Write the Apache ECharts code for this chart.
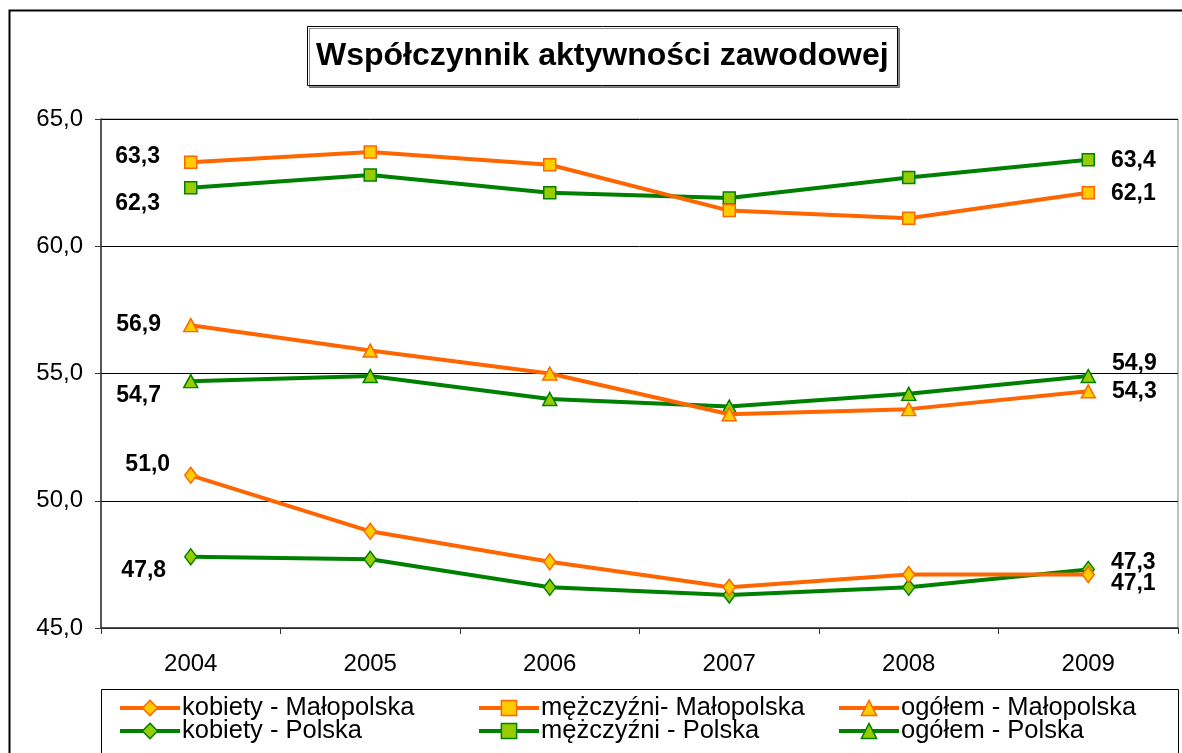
<!DOCTYPE html>
<html>
<head>
<meta charset="utf-8">
<script src="https://cdn.jsdelivr.net/npm/echarts@6/dist/echarts.min.js"></script>
<style>
html,body{margin:0;padding:0;background:#fff;}
#c{width:1182px;height:753px;}
</style>
</head>
<body>
<div id="c"></div>
<script>
const years = ['2004','2005','2006','2007','2008','2009'];
const yTicks = [45, 50, 55, 60, 65];
const seriesNames = ['kobiety - Małopolska','mężczyźni- Małopolska','ogółem - Małopolska','kobiety - Polska','mężczyźni - Polska','ogółem - Polska'];
const kobietyMalopolska = [51.0, 48.8, 47.6, 46.6, 47.1, 47.1];
const mezczyzniMalopolska = [63.3, 63.7, 63.2, 61.4, 61.1, 62.1];
const ogolemMalopolska = [56.9, 55.9, 55.0, 53.4, 53.6, 54.3];
const kobietyPolska = [47.8, 47.7, 46.6, 46.3, 46.6, 47.3];
const mezczyzniPolska = [62.3, 62.8, 62.1, 61.9, 62.7, 63.4];
const ogolemPolska = [54.7, 54.9, 54.0, 53.7, 54.2, 54.9];

const FONT = 'Liberation Sans, Arial, sans-serif';
const ORANGE = '#FF6600', ORANGE_FILL = '#FFCC00';
const GREEN = '#008000', GREEN_FILL = '#99CC00';

// style per series: colours, symbol, label offsets for first/last points
const styles = [
  {line: ORANGE, fill: ORANGE_FILL, symbol: 'diamond', size: [12,16], first: [-14,-11], last: [16, 9]},
  {line: ORANGE, fill: ORANGE_FILL, symbol: 'rect', size: [12,12], first: [-24,-6], last: [16, 1]},
  {line: ORANGE, fill: ORANGE_FILL, symbol: 'triangle', size: [14,13], first: [-22,0], last: [16, 0]},
  {line: GREEN, fill: GREEN_FILL, symbol: 'diamond', size: [12,16], first: [-18,14], last: [16,-7]},
  {line: GREEN, fill: GREEN_FILL, symbol: 'rect', size: [12,12], first: [-24,16], last: [16, 1]},
  {line: GREEN, fill: GREEN_FILL, symbol: 'triangle', size: [14,13], first: [-22,15], last: [16,-12]}
];
const values = [kobietyMalopolska, mezczyzniMalopolska, ogolemMalopolska, kobietyPolska, mezczyzniPolska, ogolemPolska];

function fmt(v){ return v.toFixed(1).replace('.', ','); }

const series = values.map((vals, si) => {
  const st = styles[si];
  return {
    name: seriesNames[si],
    type: 'line',
    symbol: st.symbol,
    symbolSize: st.size,
    lineStyle: {color: st.line, width: 4},
    itemStyle: {color: st.fill, borderColor: st.line, borderWidth: 1.5},
    emphasis: {disabled: true},
    z: si < 3 ? 3 : 2,
    data: vals.map((v, i) => {
      const item = {value: v};
      if (i === 0 || i === vals.length - 1) {
        const off = i === 0 ? st.first : st.last;
        item.label = {
          show: true,
          position: i === 0 ? 'left' : 'right',
          distance: 0,
          offset: off,
          formatter: p => fmt(p.value),
          fontFamily: FONT, fontWeight: 'bold', fontSize: 23, color: '#000'
        };
      }
      return item;
    })
  };
});

const legendPos = [
  {left: 118, top: 695}, {left: 477, top: 695}, {left: 837, top: 695},
  {left: 118, top: 718}, {left: 477, top: 718}, {left: 837, top: 718}
];
const legends = seriesNames.map((n, i) => ({
  data: [n],
  left: legendPos[i].left,
  top: legendPos[i].top,
  padding: 0,
  itemWidth: 60,
  itemHeight: 19,
  itemGap: 4,
  selectedMode: false,
  lineStyle: {width: 4},
  itemStyle: {borderWidth: 1.5},
  textStyle: {fontFamily: FONT, fontSize: 25.5, color: '#000', padding: [0,0,0,-3]}
}));

const chart = echarts.init(document.getElementById('c'), null, {renderer: 'canvas'});
chart.setOption({
  animation: false,
  backgroundColor: '#fff',
  title: {
    text: 'Współczynnik aktywności zawodowej',
    left: 307, top: 26,
    padding: [12, 9, 12, 9],
    borderColor: '#000', borderWidth: 1,
    backgroundColor: '#fff',
    shadowColor: 'rgba(0,0,0,0.45)', shadowOffsetX: 2, shadowOffsetY: 2, shadowBlur: 0,
    textStyle: {fontFamily: FONT, fontWeight: 'bold', fontSize: 32, color: '#000', lineHeight: 36}
  },
  legend: legends,
  graphic: [
    {type: 'rect', shape: {x: 9.5, y: 10.5, width: 1300, height: 900}, style: {fill: 'none', stroke: '#000', lineWidth: 2}, z: -10, silent: true},
    {type: 'rect', shape: {x: 101.5, y: 689.5, width: 1077, height: 80}, style: {fill: '#fff', stroke: '#000', lineWidth: 1}, z: -5, silent: true}
  ],
  grid: {left: 101, top: 119, right: 4, bottom: 125, show: true, borderColor: '#808080', borderWidth: 1, backgroundColor: 'transparent'},
  xAxis: {
    type: 'category',
    data: years,
    boundaryGap: true,
    axisLine: {lineStyle: {color: '#333', width: 1.5}},
    axisTick: {show: true, length: 6, lineStyle: {color: '#333'}},
    axisLabel: {fontFamily: FONT, fontSize: 24, color: '#000', margin: 24},
    splitLine: {show: false}
  },
  yAxis: {
    type: 'value',
    min: yTicks[0], max: yTicks[yTicks.length-1], interval: 5,
    axisLine: {show: true, lineStyle: {color: '#333', width: 1.5}},
    axisTick: {show: true, length: 6, lineStyle: {color: '#333'}},
    axisLabel: {fontFamily: FONT, fontSize: 24, color: '#000', margin: 18, formatter: v => fmt(v)},
    splitLine: {show: true, lineStyle: {color: '#000', width: 1}}
  },
  series: series
});
</script>
</body>
</html>
